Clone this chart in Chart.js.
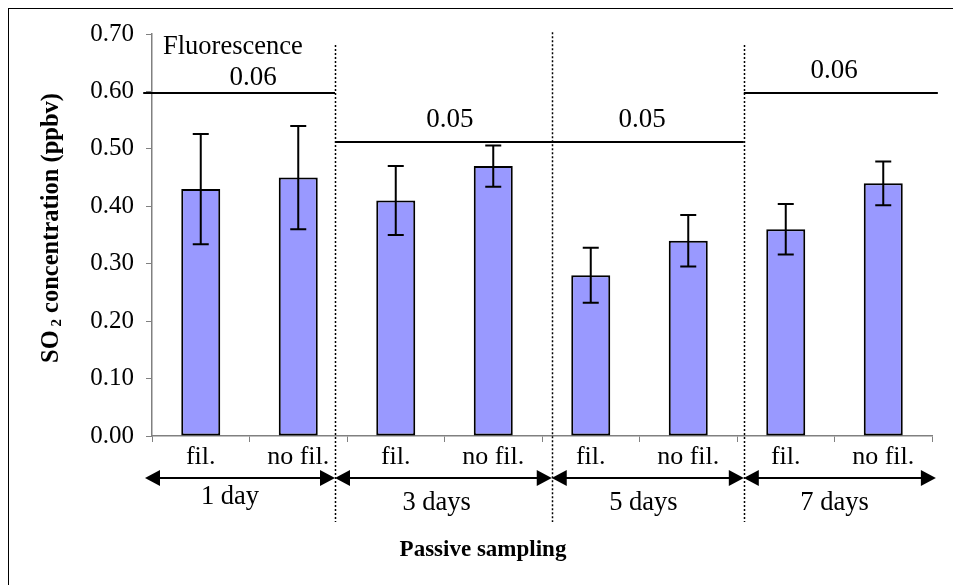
<!DOCTYPE html>
<html>
<head>
<meta charset="utf-8">
<script src="https://cdn.jsdelivr.net/npm/chart.js@4.4.1/dist/chart.umd.min.js"></script>
<style>
  html, body { margin: 0; padding: 0; background: #fff; }
  #wrap { width: 953px; height: 585px; }
</style>
</head>
<body>
<div id="wrap"><canvas id="so2" width="953" height="585"></canvas></div>
<script>
// SO2 by passive sampling, with / without filter, per exposure time
const categories = ['fil.', 'no fil.', 'fil.', 'no fil.', 'fil.', 'no fil.', 'fil.', 'no fil.'];
const so2Mean = [0.43, 0.45, 0.41, 0.47, 0.28, 0.34, 0.36, 0.44];
const so2Err = [0.096, 0.09, 0.06, 0.036, 0.048, 0.045, 0.044, 0.038];
const periods = ['1 day', '3 days', '5 days', '7 days'];
const fluoValues = ['0.06', '0.05', '0.05', '0.06'];
const yTicks = [0, 0.1, 0.2, 0.3, 0.4, 0.5, 0.6, 0.7];

const SERIF = '"Liberation Serif", "Times New Roman", serif';

// where the extra drawing goes, in category-index / y-value units
const decor = {
  dividers: [{ x: 1.377, top: 0.681 }, { x: 3.60, top: 0.703 }, { x: 5.57, top: 0.681 }],
  refLines: [
    { from: -0.59, to: 1.377, y: 0.598 },
    { from: 1.377, to: 5.57, y: 0.512 },
    { from: 5.57, to: 7.56, y: 0.598 }
  ],
  refLabels: [{ x: 0.536, y: 0.623 }, { x: 2.556, y: 0.55 }, { x: 4.526, y: 0.55 }, { x: 6.495, y: 0.636 }],
  arrows: [[-0.572, 1.377], [1.377, 3.60], [3.60, 5.57], [5.57, 7.54]],
  periodLabels: [{ x: 0.30, dy: 61 }, { x: 2.42, dy: 67 }, { x: 4.54, dy: 67 }, { x: 6.50, dy: 67 }]
};

function arrowHead(ctx, x, y, dir) {
  ctx.beginPath();
  ctx.moveTo(x, y);
  ctx.lineTo(x - dir * 15, y - 8);
  ctx.lineTo(x - dir * 15, y + 8);
  ctx.closePath();
  ctx.fill();
}

const extras = {
  id: 'extras',
  beforeDraw(chart) {
    const ctx = chart.ctx;
    ctx.save();
    ctx.fillStyle = '#fff';
    ctx.fillRect(0, 0, chart.width, chart.height);
    ctx.strokeStyle = '#000';
    ctx.lineWidth = 1;
    ctx.strokeRect(8.5, 8.5, chart.width + 20, chart.height + 20);
    ctx.restore();
  },
  afterDatasetsDraw(chart) {
    const ctx = chart.ctx;
    const xs = chart.scales.x, ys = chart.scales.y;
    const meta = chart.getDatasetMeta(0);
    const area = chart.chartArea;
    ctx.save();

    // error bars
    ctx.strokeStyle = '#000';
    ctx.lineWidth = 2;
    meta.data.forEach((bar, i) => {
      const hi = ys.getPixelForValue(so2Mean[i] + so2Err[i]);
      const lo = ys.getPixelForValue(so2Mean[i] - so2Err[i]);
      ctx.beginPath();
      ctx.moveTo(bar.x, hi); ctx.lineTo(bar.x, lo);
      ctx.moveTo(bar.x - 8, hi); ctx.lineTo(bar.x + 8, hi);
      ctx.moveTo(bar.x - 8, lo); ctx.lineTo(bar.x + 8, lo);
      ctx.stroke();
    });

    // dotted separators between sampling periods
    ctx.lineWidth = 1.5;
    ctx.setLineDash([2, 2]);
    decor.dividers.forEach(d => {
      const x = Math.round(xs.getPixelForValue(d.x)) + 0.5;
      ctx.beginPath();
      ctx.moveTo(x, ys.getPixelForValue(d.top));
      ctx.lineTo(x, area.bottom + 86);
      ctx.stroke();
    });
    ctx.setLineDash([]);

    // fluorescence reference levels
    ctx.lineWidth = 2;
    decor.refLines.forEach(r => {
      const y = Math.round(ys.getPixelForValue(r.y));
      ctx.beginPath();
      ctx.moveTo(xs.getPixelForValue(r.from), y);
      ctx.lineTo(xs.getPixelForValue(r.to), y);
      ctx.stroke();
    });

    ctx.fillStyle = '#000';
    ctx.textBaseline = 'middle';
    ctx.font = '26.5px ' + SERIF;
    ctx.textAlign = 'left';
    ctx.fillText('Fluorescence', xs.getPixelForValue(-0.387), ys.getPixelForValue(0.677));
    ctx.textAlign = 'center';
    ctx.font = '27px ' + SERIF;
    decor.refLabels.forEach((p, i) => {
      ctx.fillText(fluoValues[i], xs.getPixelForValue(p.x), ys.getPixelForValue(p.y));
    });

    // period arrows under the axis
    const ay = area.bottom + 42;
    decor.arrows.forEach(([a, b]) => {
      const x1 = xs.getPixelForValue(a), x2 = xs.getPixelForValue(b);
      ctx.beginPath();
      ctx.moveTo(x1 + 10, ay); ctx.lineTo(x2 - 10, ay);
      ctx.stroke();
      arrowHead(ctx, x1, ay, -1);
      arrowHead(ctx, x2, ay, 1);
    });
    ctx.font = '26.5px ' + SERIF;
    decor.periodLabels.forEach((p, i) => {
      ctx.fillText(periods[i], xs.getPixelForValue(p.x), area.bottom + p.dy);
    });

    // axis titles
    ctx.font = 'bold 23px ' + SERIF;
    ctx.fillText('Passive sampling', 483, area.bottom + 114);

    ctx.translate(52, 228);
    ctx.rotate(-Math.PI / 2);
    const big = 'bold 24.5px ' + SERIF, small = 'bold 15px ' + SERIF;
    const parts = [['SO', big, 0], [' 2', small, 5], [' concentration (ppbv)', big, 0]];
    let total = 0;
    parts.forEach(p => { ctx.font = p[1]; total += ctx.measureText(p[0]).width; });
    let x = -total / 2;
    ctx.textAlign = 'left';
    parts.forEach(p => {
      ctx.font = p[1];
      ctx.fillText(p[0], x, p[2]);
      x += ctx.measureText(p[0]).width;
    });
    ctx.restore();
  }
};

new Chart(document.getElementById('so2'), {
  type: 'bar',
  data: {
    labels: categories,
    datasets: [{
      data: so2Mean,
      backgroundColor: '#9999FF',
      borderColor: '#000',
      borderWidth: 2,
      borderSkipped: false,
      categoryPercentage: 1,
      barPercentage: 0.4
    }]
  },
  options: {
    responsive: false,
    animation: false,
    events: [],
    layout: { padding: { top: 34, right: 21, left: 0, bottom: 0 } },
    plugins: { legend: { display: false }, tooltip: { enabled: false } },
    scales: {
      x: {
        grid: { drawOnChartArea: false, tickLength: 6, color: '#808080', offset: true },
        border: { color: '#808080', width: 1.5 },
        ticks: { color: '#000', font: { family: SERIF, size: 26 }, padding: 0, maxRotation: 0, autoSkip: false },
        afterFit(s) { s.height = 149; }
      },
      y: {
        min: 0,
        max: 0.7,
        afterBuildTicks(s) { s.ticks = yTicks.map(v => ({ value: v })); },
        grid: { drawOnChartArea: false, tickLength: 6, color: '#808080' },
        border: { color: '#808080', width: 1.5 },
        ticks: { color: '#000', font: { family: SERIF, size: 25 }, padding: 12, callback: v => v.toFixed(2) },
        afterFit(s) { s.width = 152; }
      }
    }
  },
  plugins: [extras]
});
</script>
</body>
</html>
